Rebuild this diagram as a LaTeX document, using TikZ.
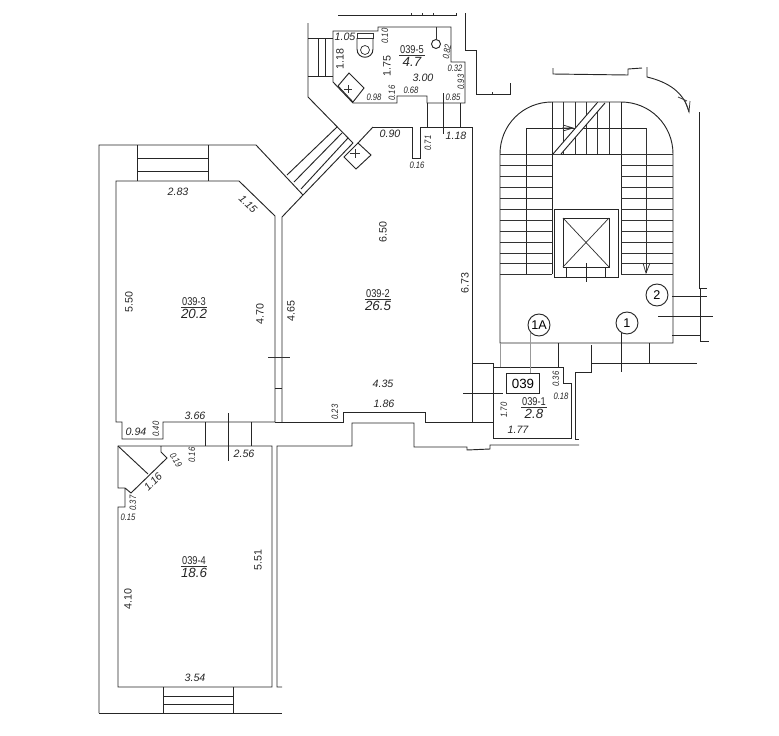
\documentclass[tikz,border=0pt]{standalone}
\usepackage{fontspec}
\setmainfont{Liberation Sans}
\newfontfamily\narrowfont[FakeStretch=0.82]{Liberation Sans}
\usetikzlibrary{positioning}
\tikzset{
  wall/.style={draw=black!85,line width=.7pt,line join=miter},
  thin wall/.style={draw=black!80,line width=.55pt},
  leader/.style={draw=black!40,line width=.7pt},
  dimup/.style={inner sep=0pt,font=\fontsize{8}{8}\selectfont,text=black!85},
  dimit/.style={dimup,font=\fontsize{8}{8}\selectfont\itshape},
  dimsmall/.style={dimup,font=\narrowfont\fontsize{7}{7}\selectfont\itshape},
  roomnum/.style={inner sep=.6pt,font=\narrowfont\fontsize{8.5}{8.5}\selectfont,text=black!85},
  roomarea/.style={inner sep=0pt,font=\fontsize{10}{10}\selectfont\itshape,text=black!85},
  entry/.style={circle,draw=black!85,line width=.7pt,minimum size=16.5pt,inner sep=0pt,font=\fontsize{9.5}{9.5}\selectfont},
  flatnum/.style={rectangle,draw=black!85,line width=.7pt,minimum width=25pt,minimum height=14.5pt,inner sep=0pt,font=\fontsize{10}{10}\selectfont}
}
\begin{document}
\begin{tikzpicture}[x=.75pt,y=-.75pt]
\useasboundingbox (0,0) rectangle (779,736);
% room 039-5
\draw[wall] (333,31) -- (378,31) -- (378,27) -- (451,27) -- (451,62) -- (465,62) -- (465,103) -- (427,103) -- (427,96) -- (397,96) -- (397,103) -- (353,103) -- (333,82) -- cycle;
\draw[wall] (308,23) -- (308,97) -- (353,143);
\draw[wall] (308,38) -- (333,38);
\draw[wall] (308,76) -- (333,76);
\foreach \x in {318,325} {
  \draw[wall] (\x,38) -- (\x,76);
}
\draw[thin wall] (357,33) rectangle (373,38);
\draw[wall] (357,38) -- (357,49) .. controls (357,60) and (373,60) .. (373,49) -- (373,38);
\draw[thin wall] (365,50) circle[radius=4.5];
\draw[thin wall] (436,27) -- (436,39);
\draw[wall] (436,44) circle[radius=4.5];
\draw[wall] (349,73) -- (364,88) -- (353,102) -- (338,86) -- cycle;
\draw[thin wall] (348,85) -- (348,93) (344,89) -- (352,89);
\draw[wall] (427,103) -- (427,127);
\draw[wall] (443,93) -- (443,134);
\draw[wall] (460,103) -- (460,127);
% room 039-2
\draw[wall] (282,422) -- (282,217) -- (303,195) -- (353,143);
\draw[wall] (373,127) -- (358,143);
\draw[wall] (373,127) -- (412,127) -- (412,158) -- (420,158) -- (420,127) -- (472,127) -- (472,423);
\draw[wall] (282,422) -- (343,422) -- (343,412) -- (425,412) -- (425,422) -- (493,422);
\draw[wall] (358,143) -- (371,155) -- (356,169) -- (344,157) -- cycle;
\draw[thin wall] (355,149) -- (355,158) (350,153) -- (360,153);
% passage stairs
\draw[wall] (287,175) -- (337,127);
\draw[wall] (294,182) -- (342,133);
\draw[wall] (301,189) -- (348,138);
% room 039-3
\draw[wall] (99,713) -- (99,145) -- (256,145) -- (303,195);
\draw[wall] (116,181) -- (239,181) -- (275,216) -- (275,422) -- (163,422) -- (163,439) -- (122,439) -- (122,422) -- (116,422) -- cycle;
\draw[wall] (137,145) -- (137,181);
\draw[wall] (208,145) -- (208,181);
\foreach \y in {158,171} {
  \draw[wall] (137,\y) -- (208,\y);
}
\draw[wall] (275,388) -- (282,388);
\draw[thin wall] (268,357) -- (290,357);
\draw[wall] (275,422) -- (282,422);
% doorway 3-4
\draw[wall] (205,422) -- (205,446);
\draw[wall] (251,422) -- (251,446);
\draw[wall] (228,413) -- (228,461);
% room 039-4
\draw[wall] (161,446) -- (161,452) -- (167,458) -- (131,493) -- (125,488) -- (118,488) -- (118,446) -- (272,446) -- (272,687) -- (118,687) -- (118,507) -- (125,507) -- (125,488);
\draw[wall] (118,446) -- (148,474);
\draw[wall] (99,713) -- (282,713);
\draw[wall] (163,687) -- (163,713);
\draw[wall] (233,687) -- (233,713);
\foreach \y in {696,704} {
  \draw[wall] (163,\y) -- (233,\y);
}
% corridor walls below
\draw[wall] (282,687) -- (277,687) -- (277,446) -- (352,446) -- (352,423) -- (414,423) -- (414,447) -- (467,447) -- (467,450) -- (490,449) -- (490,445) -- (579,445);
% stairwell
\draw[wall] (500,343) -- (500,154) .. controls (500,125) and (523,102) .. (552,102) -- (621,102) .. controls (650,102) and (673,125) .. (673,154) -- (673,343) -- cycle;
\draw[wall] (526,128) -- (646,128);
\draw[wall] (526,128) -- (526,274);
\draw[thin wall] (646,128) -- (646,273);
\draw[thin wall] (643,263) -- (646,273) -- (650,263);
\draw[wall] (552,102) -- (552,274);
\draw[wall] (621,102) -- (621,274);
\foreach \x in {563,575,586,597,609} {
  \draw[thin wall] (\x,102) -- (\x,154);
}
\foreach \y in {154,165,176,187,198,209,220,231,242,253,263,274} {
  \draw[thin wall] (500,\y) -- (552,\y);
  \draw[thin wall] (621,\y) -- (673,\y);
}
\draw[wall] (552,154) -- (621,154);
\path[fill=white] (553,154) -- (597,103) -- (605,103) -- (561,154) -- cycle;
\draw[wall] (553,154) -- (597,103);
\draw[wall] (561,154) -- (605,103);
\draw[thin wall] (562,128) -- (573,128) -- (563,125);
\draw[thin wall] (573,128) -- (563,131);
% lift
\path[fill=white] (554,209) rectangle (618,277);
\draw[wall] (554,209) rectangle (618,277);
\draw[wall] (563,218) rectangle (609,267);
\draw[thin wall] (563,218) -- (609,267);
\draw[thin wall] (609,218) -- (563,267);
\foreach \x in {566,605} {
  \draw[wall] (\x,267) -- (\x,277);
}
\draw[wall] (586,263) -- (586,282);
% vestibule
\draw[wall] (558,343) -- (558,367);
\draw[leader] (500,343) -- (500,367);
\draw[wall] (591,345) -- (591,372) -- (575,372) -- (575,439) -- (579,439);
\draw[wall] (649,343) -- (649,363);
\draw[wall] (591,363) -- (697,363);
\draw[wall] (621,333) -- (621,372);
% room 039-1
\draw[wall] (493,367) -- (563,367) -- (563,383) -- (571,383) -- (571,438) -- (493,438) -- cycle;
\draw[wall] (472,363) -- (493,363) -- (493,367);
\draw[wall] (463,393) -- (503,393);
% outer lines top and right
\draw[wall] (338,15) -- (456,15) -- (456,13);
\foreach \x in {411,422,433} {
  \draw[thin wall] (\x,13) -- (\x,15);
}
\draw[wall] (465,13) -- (465,50) -- (476,50) -- (476,94) -- (510,94) -- (510,83);
\draw[thin wall] (492,92) -- (492,94);
\draw[wall] (553,68) -- (553,74) -- (628,75) -- (628,69) -- (642,68);
\draw[wall] (647,67) -- (647,77) .. controls (668,82) and (684,92) .. (689,112);
\draw[thin wall] (678,97) -- (687,101);
\draw[thin wall] (685,101) -- (689,112) -- (690,101);
\draw[wall] (699,112) -- (699,288) -- (707,288);
\draw[wall] (672,296) -- (707,296);
\draw[wall] (700,288) -- (700,341) -- (709,341);
\draw[wall] (658,316) -- (713,316);
\draw[wall] (672,335) -- (700,335);
% entrances
\node[entry] (entry1A) at (539,325) {1A};
\node[entry] (entry1) at (627,323) {1};
\node[entry] (entry2) at (657,295) {2};
\node[flatnum] (flat039) at (523,383.5) {039};
\draw[leader] (entry1A.south west) -- (entry1A.south west |- flat039.north);
% room labels
\foreach \name/\x/\y/\num/\area in {five/412/50/039-5/4.7,two/378/294/039-2/26.5,three/194/302/039-3/20.2,four/194/561/039-4/18.6,one/534/402/039-1/2.8} {
  \node[roomnum] (num-\name) at (\x,\y) {\num};
  \node[roomarea,below=1.5pt of num-\name] (area-\name) {\area};
  \draw[thin wall] (num-\name.south west) -- (num-\name.south east);
}
% dimensions
\foreach \x/\y/\a/\t [count=\k] in {
  345/37/0/1.05,423/78/0/3.00,390/134/0/0.90,456/136/0/1.18,178/192/0/2.83,248/204/-45/1.15,
  383/384/0/4.35,384/404/0/1.86,136/432/0/0.94,195/416/0/3.66,244/454/0/2.56,153/482/45/1.16,
  195/678/0/3.54,518/430/0/1.77} {
  \node[dimit,rotate=\a] (dimit-\k) at (\x,\y) {\t};
}
\foreach \x/\y/\t [count=\k] in {
  340/59/1.18,387/66/1.75,383/232/6.50,129/302/5.50,260/314/4.70,291/311/4.65,465/283/6.73,
  258/560/5.51,128/599/4.10} {
  \node[dimup,rotate=90] (dimup-\k) at (\x,\y) {\t};
}
\foreach \x/\y/\a/\t [count=\k] in {
  385/36/90/0.10,447/52/80/0.82,455/68/0/0.32,461/82/90/0.93,453/97/0/0.85,374/97/0/0.98,
  392/93/90/0.16,411/90/0/0.68,428/143/90/0.71,417/165/0/0.16,335/412/90/0.23,156/429/90/0.40,
  176/460/-60/0.19,192/455/90/0.16,133/503/90/0.37,128/517/0/0.15,504/410/90/1.70,556/379/90/0.36,
  561/396/0/0.18} {
  \node[dimsmall,rotate=\a] (dimsmall-\k) at (\x,\y) {\t};
}
\end{tikzpicture}
\end{document}
